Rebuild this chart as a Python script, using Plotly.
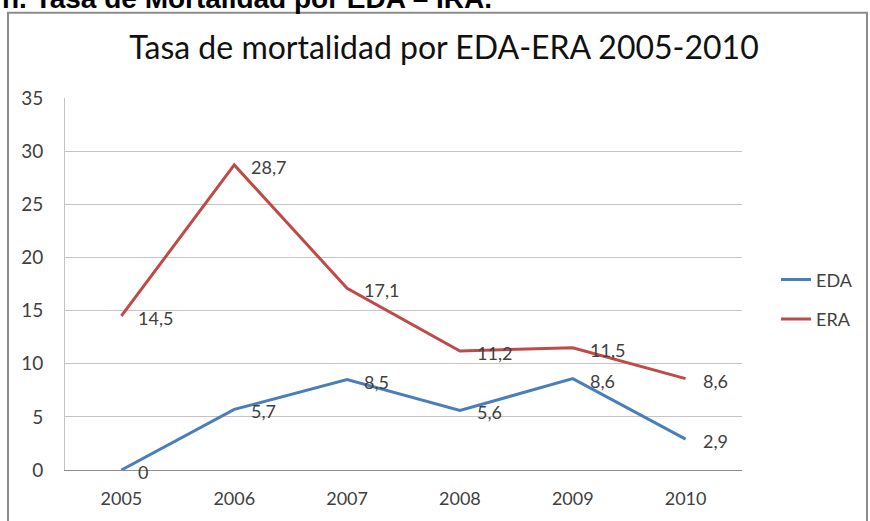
import plotly.graph_objects as go

years = ["2005", "2006", "2007", "2008", "2009", "2010"]
eda = [0, 5.7, 8.5, 5.6, 8.6, 2.9]
era = [14.5, 28.7, 17.1, 11.2, 11.5, 8.6]
y_ticks = [0, 5, 10, 15, 20, 25, 30, 35]

W, H = 870, 521
L, R, T, B = 65, 128, 98, 48
PW, PH = W - L - R, H - T - B

def px_x(px):
    return (px - L) / PW

def px_y(py):
    return (H - B - py) / PH

BLUE = "#4A7EBB"
RED = "#BE4B48"
TXT = "#404040"
FONT = "Lato"

fig = go.Figure()
fig.add_trace(go.Scatter(x=years, y=eda, mode="lines", name="EDA",
                         line=dict(color=BLUE, width=3), legendgroup="a"))
fig.add_trace(go.Scatter(x=years, y=era, mode="lines", name="ERA",
                         line=dict(color=RED, width=3), legendgroup="b"))

annotations = []
for series in (era, eda):
    for i, v in enumerate(series):
        annotations.append(dict(
            x=i, y=v, xref="x", yref="y", text=f"{v:g}".replace(".", ","),
            showarrow=False, xanchor="left", yanchor="middle",
            xshift=15, yshift=-2, font=dict(family=FONT, size=18, color=TXT)))

annotations.append(dict(
    x=px_x(0), y=px_y(-2), xref="paper", yref="paper",
    text="<b>n. Tasa de Mortalidad por EDA – IRA.</b>", showarrow=False,
    xanchor="left", yanchor="middle",
    font=dict(family="Liberation Sans", size=28, color="#000000")))

fig.update_layout(
    width=W, height=H,
    margin=dict(l=L, r=R, t=T, b=B, pad=0),
    paper_bgcolor="white", plot_bgcolor="white",
    title=dict(text="Tasa de mortalidad por EDA-ERA 2005-2010",
               x=px_x(444), xanchor="center", y=1 - 48 / H, yanchor="middle",
               xref="paper", yref="container",
               font=dict(family=FONT, size=32, color="#111111")),
    showlegend=True,
    legend=dict(x=px_x(776), y=px_y(301), xanchor="left", yanchor="middle",
                font=dict(family=FONT, size=18, color=TXT),
                tracegroupgap=13, traceorder="grouped",
                bgcolor="rgba(0,0,0,0)"),
    annotations=annotations,
    shapes=[dict(type="rect", xref="paper", yref="paper",
                 x0=px_x(8), x1=px_x(867), y0=px_y(535), y1=px_y(12),
                 line=dict(color="#8c8c8c", width=2), fillcolor="rgba(0,0,0,0)",
                 layer="below")],
)

fig.update_xaxes(type="category", categoryorder="array", categoryarray=years,
                 range=[-0.5, 5.5], showgrid=False, showline=True,
                 linecolor="#8c8c8c", linewidth=1, ticks="",
                 ticklabelstandoff=12,
                 tickfont=dict(family=FONT, size=18, color=TXT))
fig.update_yaxes(range=[0, 35], tickvals=y_ticks, showgrid=True,
                 gridcolor="#c4c4c4", gridwidth=1, showline=True,
                 linecolor="#c4c4c4", linewidth=1, ticks="", zeroline=False,
                 ticklabelstandoff=17,
                 tickfont=dict(family=FONT, size=19, color=TXT))

fig.write_html("out.html", config={"displayModeBar": False},
               post_script="document.body.style.margin='0';document.body.style.padding='0';")
